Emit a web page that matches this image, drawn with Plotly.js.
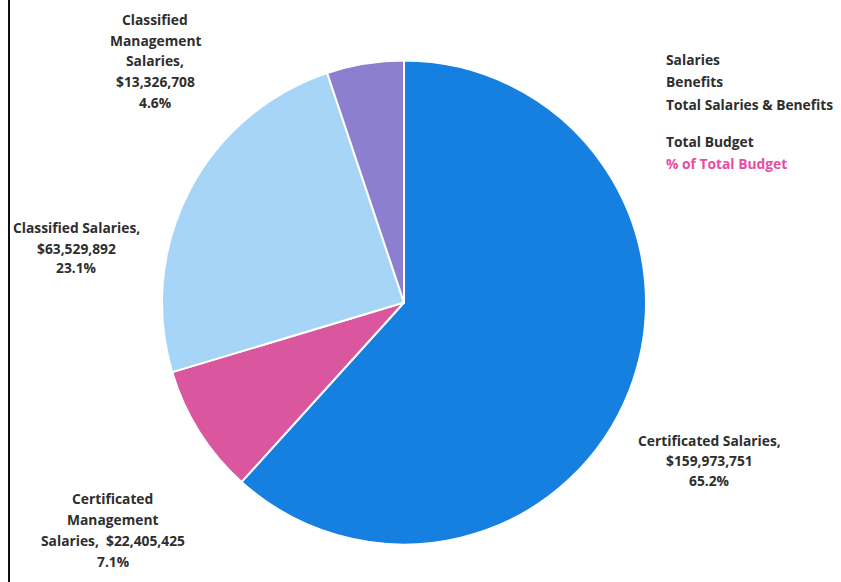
<!DOCTYPE html>
<html><head><meta charset="utf-8">
<script src="https://cdn.plot.ly/plotly-3.0.1.min.js"></script>
<style>html,body{margin:0;padding:0;background:#fff;}#chart{width:841px;height:582px;}</style>
</head><body><div id="chart"></div>
<script>
const categories = ["Certificated Salaries", "Certificated Management Salaries", "Classified Salaries", "Classified Management Salaries"];
const amounts = [159973751, 22405425, 63529892, 13326708];
const pctOfBudget = ["65.2%", "7.1%", "23.1%", "4.6%"];
const sliceColors = ["#1580DF", "#DA569F", "#A6D5F7", "#8D7FCF"];
const legendLines = ["Salaries", "Benefits", "Total Salaries & Benefits", "Total Budget", "% of Total Budget"];

function fmt(v){ return "$" + v.toLocaleString("en-US"); }

const labelLines = [
  [categories[0] + ",", fmt(amounts[0]), pctOfBudget[0]],
  ["Certificated", "Management", "Salaries,  " + fmt(amounts[1]), pctOfBudget[1]],
  [categories[2] + ",", fmt(amounts[2]), pctOfBudget[2]],
  ["Classified", "Management", "Salaries,", fmt(amounts[3]), pctOfBudget[3]]
];
const labelPos = [
  {x: 709, y: 440, step: 20.5},
  {x: 113, y: 498, step: 21.3},
  {x: 76,  y: 228, step: 20},
  {x: 155, y: 20,  step: 20.5}
];
const W = 841, H = 582;
const annotations = [];
const fontBase = {family: "'Open Sans', Lato, sans-serif", size: 13.8, color: "#2e2e2e", weight: 700};
labelLines.forEach((lines, i) => {
  lines.forEach((t, j) => {
    annotations.push({
      text: t, xref: "paper", yref: "paper",
      x: labelPos[i].x / W, y: 1 - (labelPos[i].y + j * labelPos[i].step) / H,
      xanchor: "center", yanchor: "middle", showarrow: false, font: fontBase
    });
  });
});
const legendY = [60, 82, 104, 141, 163];
legendLines.forEach((t, j) => {
  annotations.push({
    text: t, xref: "paper", yref: "paper",
    x: 664 / W, y: 1 - legendY[j] / H, xanchor: "left", yanchor: "middle", showarrow: false,
    font: Object.assign({}, fontBase, {color: j === 4 ? "#E94DA3" : "#2e2e2e"})
  });
});

const data = [{
  type: "pie",
  labels: categories,
  values: amounts,
  sort: false,
  direction: "clockwise",
  rotation: 0,
  textinfo: "none",
  hoverinfo: "label+value",
  marker: {colors: sliceColors, line: {color: "#ffffff", width: 2}},
  domain: {x: [(404 - 242) / W, (404 + 242) / W], y: [1 - 545 / H, 1 - 60 / H]}
}];
const layout = {
  width: W, height: H,
  margin: {l: 0, r: 0, t: 0, b: 0},
  paper_bgcolor: "#ffffff",
  showlegend: false,
  annotations: annotations,
  shapes: [{type: "line", xref: "paper", yref: "paper", x0: 9 / W, x1: 9 / W, y0: 0, y1: 1, line: {color: "#111", width: 2}}]
};
Plotly.newPlot("chart", data, layout, {displayModeBar: false, staticPlot: true});
</script></body></html>
